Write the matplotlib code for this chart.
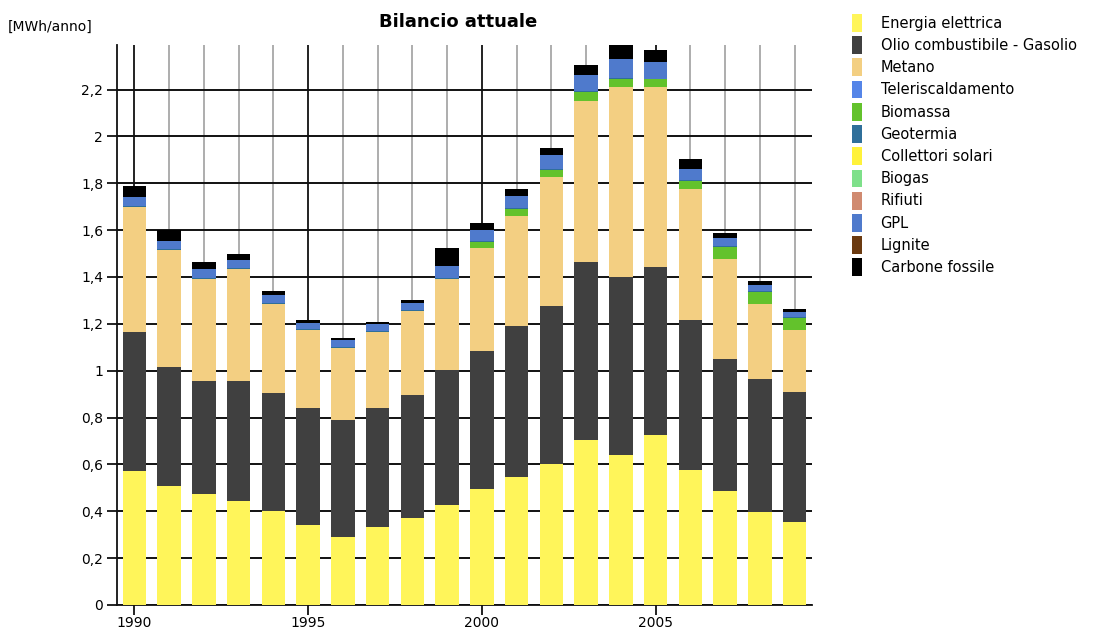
import matplotlib
matplotlib.use("Agg")
import matplotlib.pyplot as plt
from matplotlib.patches import Patch
from matplotlib.ticker import MultipleLocator, FuncFormatter
import numpy as np

plt.rcParams['font.family'] = ['DejaVu Sans']

years = list(range(1990, 2010))

energia_elettrica = [0.574, 0.508, 0.473, 0.444, 0.400, 0.342, 0.290, 0.333, 0.370, 0.428,
                     0.494, 0.545, 0.602, 0.705, 0.639, 0.725, 0.575, 0.487, 0.399, 0.356]
olio_gasolio = [0.592, 0.506, 0.484, 0.513, 0.504, 0.498, 0.499, 0.507, 0.528, 0.574,
                0.592, 0.644, 0.673, 0.757, 0.759, 0.716, 0.642, 0.562, 0.565, 0.555]
metano = [0.533, 0.502, 0.436, 0.478, 0.380, 0.335, 0.307, 0.326, 0.355, 0.391,
          0.438, 0.470, 0.552, 0.691, 0.812, 0.769, 0.559, 0.429, 0.319, 0.262]
teleriscaldamento = [0.0] * 20
biomassa = [0.0, 0.0, 0.0, 0.0, 0.0, 0.0, 0.0, 0.0, 0.0, 0.0,
            0.027, 0.033, 0.031, 0.036, 0.037, 0.033, 0.035, 0.052, 0.051, 0.052]
geotermia = [0.004] * 20
collettori_solari = [0.0] * 20
biogas = [0.0] * 20
rifiuti = [0.0] * 20
gpl = [0.038, 0.032, 0.038, 0.035, 0.033, 0.026, 0.031, 0.029, 0.032, 0.051,
       0.047, 0.051, 0.059, 0.068, 0.081, 0.071, 0.047, 0.032, 0.026, 0.023]
lignite = [0.0] * 20
carbone_fossile = [0.049, 0.047, 0.029, 0.025, 0.019, 0.012, 0.007, 0.010, 0.014, 0.074,
                   0.028, 0.029, 0.030, 0.043, 0.068, 0.050, 0.043, 0.021, 0.020, 0.010]

series_labels = ["Energia elettrica", "Olio combustibile - Gasolio", "Metano",
                 "Teleriscaldamento", "Biomassa", "Geotermia", "Collettori solari",
                 "Biogas", "Rifiuti", "GPL", "Lignite", "Carbone fossile"]
series_values = [energia_elettrica, olio_gasolio, metano, teleriscaldamento, biomassa,
                 geotermia, collettori_solari, biogas, rifiuti, gpl, lignite, carbone_fossile]
series_colors = ["#fff55a", "#404040", "#f3cf82", "#5585e8", "#63c22c", "#2f6f9a",
                 "#fff23a", "#7ee08a", "#d08a70", "#4f7acc", "#6b3a10", "#000000"]

fig = plt.figure(figsize=(11.07, 6.29), dpi=100)
ax = fig.add_axes([117 / 1107, 1 - 605 / 629, (812 - 117) / 1107, (605 - 45) / 629])

x = np.array(years, dtype=float)
bottom = np.zeros(len(years))
for vals, col in zip(series_values, series_colors):
    v = np.array(vals)
    ax.bar(x, v, width=0.68, bottom=bottom, color=col, edgecolor='none', zorder=3)
    bottom += v

ax.set_xlim(1989.5, 2009.5)
ax.set_ylim(0, 2.39)

# grid: black horizontal lines, grey yearly verticals, black every five years
ax.yaxis.set_major_locator(MultipleLocator(0.2))
ax.yaxis.set_major_formatter(FuncFormatter(
    lambda v, p: ("%g" % round(v, 1)).replace(".", ",")))
ax.xaxis.set_major_locator(MultipleLocator(5))
ax.xaxis.set_minor_locator(MultipleLocator(1))
ax.xaxis.set_major_formatter(FuncFormatter(lambda v, p: "%d" % v))
ax.grid(axis='y', which='major', color='#111111', linewidth=1.4, zorder=1)
ax.grid(axis='x', which='minor', color='#a0a0a0', linewidth=1.2, zorder=1)
ax.grid(axis='x', which='major', color='#111111', linewidth=1.3, zorder=1)
ax.set_axisbelow(True)

for s in ['top', 'right']:
    ax.spines[s].set_visible(False)
for s in ['left', 'bottom']:
    ax.spines[s].set_color('#111111')
    ax.spines[s].set_linewidth(1.3)

ax.tick_params(axis='y', which='major', length=7, width=1.3, color='#111111',
               labelsize=10, pad=3)
ax.tick_params(axis='x', which='major', length=7, width=1.3, color='#111111',
               labelsize=10, pad=1)
ax.tick_params(axis='x', which='minor', length=0)

fig.text(458 / 1107, 1 - 22 / 629, "Bilancio attuale", ha='center', va='center',
         fontsize=13, fontweight='bold')
fig.text(8 / 1107, 1 - 27 / 629, "[MWh/anno]", ha='left', va='center', fontsize=10)

handles = [Patch(facecolor=c, edgecolor='none') for c in series_colors]
fig.legend(handles, series_labels, loc='upper left',
           bbox_to_anchor=(846 / 1107, 1 - 8 / 629), frameon=False,
           fontsize=10.5, handlelength=0.72, handleheight=1.5,
           handletextpad=1.25, labelspacing=0.305, borderaxespad=0)

fig.savefig("out.png", dpi=100)
